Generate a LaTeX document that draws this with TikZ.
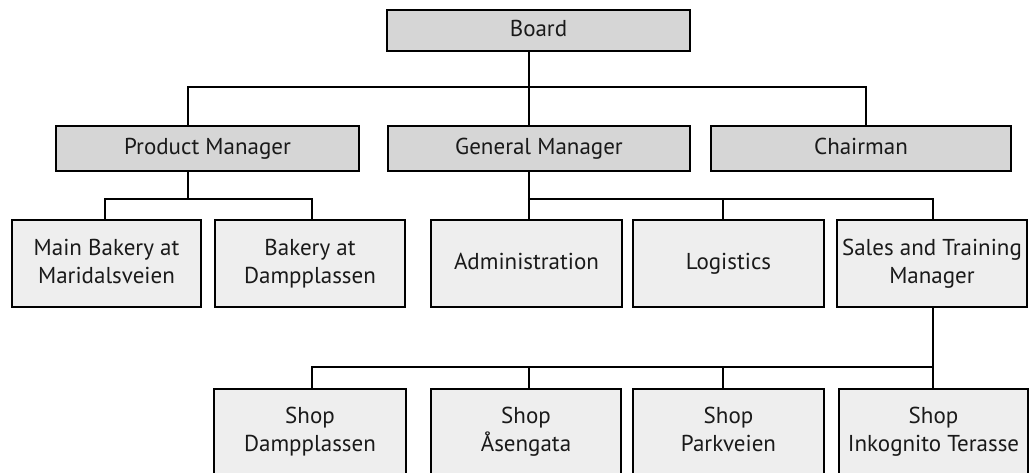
\documentclass[tikz,border=0pt]{standalone}
\usepackage{fontspec}
\setmainfont{PT Sans}
\definecolor{boxdark}{HTML}{D6D6D6}
\definecolor{boxlight}{HTML}{EEEEEE}
\definecolor{ink}{HTML}{1A1A1A}
\tikzset{
  unit/.style={draw=black, line width=2pt, text=ink, inner sep=0pt,
    font=\fontsize{23}{28}\selectfont},
  headbox/.style={unit, fill=boxdark, minimum width=#1, minimum height=45pt},
  subbox/.style={unit, fill=boxlight, minimum width=#1, minimum height=87pt},
  link/.style={line width=2pt, draw=black, line join=miter}
}
% centred lines of equal height, so every label sits on the same baselines
\newcommand\lines[1]{\begin{tabular}{@{}c@{}}#1\end{tabular}}
\newcommand\shoptext[1]{\raisebox{5pt}[\height][\depth]{\lines{#1}}}
\begin{document}
\begin{tikzpicture}[x=1pt,y=-1pt]
\useasboundingbox (0,0) rectangle (1029,472);
\clip (0,0) rectangle (1029,472);
\renewcommand\arraystretch{1}
\setlength\tabcolsep{0pt}

% top level
\node[headbox=303pt, minimum height=41pt] (board) at (538.5,30.5) {\strut Board};

% managers
\node[headbox=303pt] (pm) at (207.5,148.5) {\strut Product Manager};
\node[headbox=302pt] (gm) at (539,148.5) {\strut General Manager};
\node[headbox=300pt] (ch) at (861,148.5) {\strut Chairman};

% units
\node[subbox=189pt] (mb) at (106.5,263.5) {\lines{Main Bakery at\\Maridalsveien}};
\node[subbox=190pt] (bd) at (310,263.5) {\lines{Bakery at\\Dampplassen}};
\node[subbox=191pt] (adm) at (526.5,263.5) {\strut Administration};
\node[subbox=191pt] (log) at (728.5,263.5) {\strut Logistics};
\node[subbox=190pt] (sal) at (932,263.5) {\lines{Sales and Training\\Manager}};

% shops
\tikzset{shop/.style={subbox=#1, minimum height=96pt, anchor=north}}
\node[shop=192pt] (s1) at (310,388) {\shoptext{Shop\\Dampplassen}};
\node[shop=190pt] (s2) at (526,388) {\shoptext{Shop\\Åsengata}};
\node[shop=191pt] (s3) at (728.5,388) {\shoptext{Shop\\Parkveien}};
\node[shop=189pt] (s4) at (933.5,388) {\shoptext{Shop\\Inkognito Terasse}};

% branch columns and bus rows
\coordinate (xp) at (188,0);
\coordinate (xg) at (529,0);
\coordinate (xc) at (866,0);
\coordinate (xmb) at (105,0);
\coordinate (xbd) at (312,0);
\coordinate (xl) at (723,0);
\coordinate (xs) at (933,0);
\coordinate (ya) at (0,87);
\coordinate (yb) at (0,199);
\coordinate (yc) at (0,367);

% board to managers
\draw[link] (board.south -| xg) -- (gm.north -| xg);
\draw[link] (pm.north -| xp) -- (xp |- ya) -- (xc |- ya) -- (ch.north -| xc);

% product manager to bakeries
\draw[link] (pm.south -| xp) -- (xp |- yb);
\draw[link] (mb.north -| xmb) -- (xmb |- yb) -- (xbd |- yb) -- (bd.north -| xbd);

% general manager to departments
\draw[link] (gm.south -| xg) -- (adm.north -| xg);
\draw[link] (xg |- yb) -- (xs |- yb) -- (sal.north -| xs);
\draw[link] (xl |- yb) -- (log.north -| xl);

% sales to shops
\draw[link] (sal.south -| xs) -- (s4.north -| xs);
\draw[link] (s1.north -| xbd) -- (xbd |- yc) -- (xs |- yc);
\draw[link] (xg |- yc) -- (s2.north -| xg);
\draw[link] (xl |- yc) -- (s3.north -| xl);
\end{tikzpicture}
\end{document}
